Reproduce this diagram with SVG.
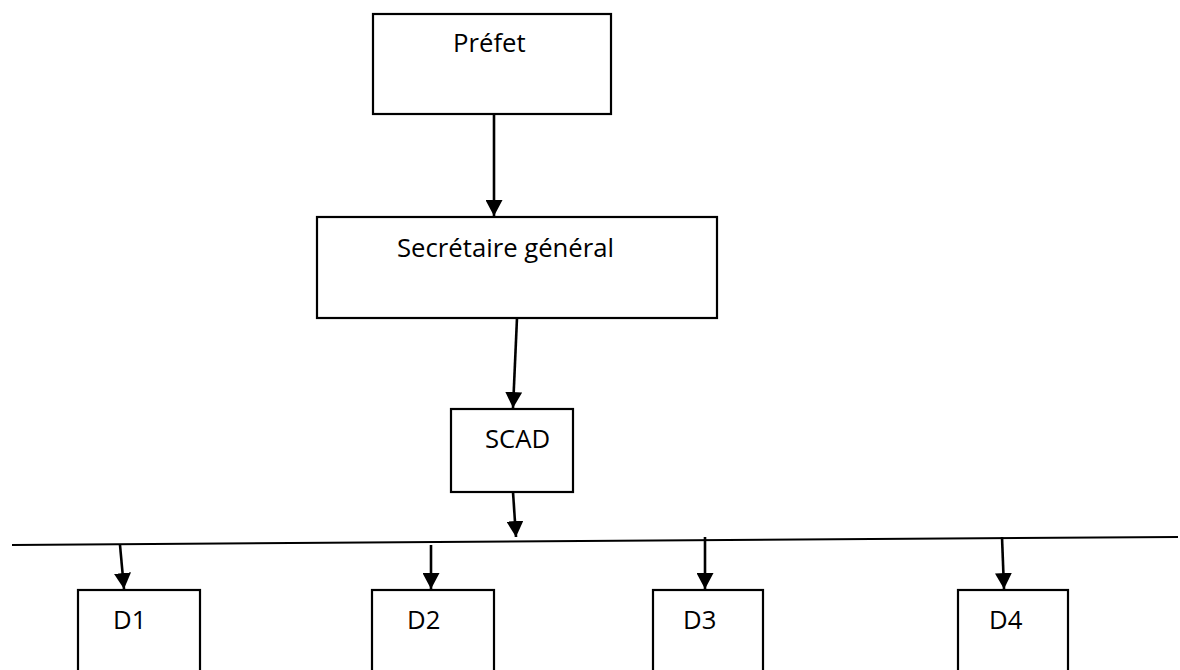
<svg xmlns="http://www.w3.org/2000/svg" width="1180" height="670" viewBox="0 0 1180 670">
  <style>
    .box { fill: #fff; stroke: #000; stroke-width: 2.2; }
    .lbl { font-family: "Open Sans", "Liberation Sans", Arial, sans-serif; font-size: 25.7px; fill: #000; }
    .conn { stroke: #000; stroke-width: 2.6; fill: none; }
    .bus { stroke: #000; stroke-width: 2; fill: none; }
  </style>
  <defs>
    <marker id="arr" markerUnits="userSpaceOnUse" markerWidth="17" markerHeight="17" viewBox="0 0 16 16" refX="15" refY="8" orient="auto">
      <path d="M0,0 L15,8 L0,16 Z" fill="#000"/>
    </marker>
  </defs>

  <g id="prefet">
    <rect class="box" x="373" y="14" width="238" height="100"/>
    <text class="lbl" x="453" y="52">Préfet</text>
  </g>
  <g id="secretaire">
    <rect class="box" x="317" y="217" width="400" height="101"/>
    <text class="lbl" x="397" y="257">Secrétaire général</text>
  </g>
  <g id="scad">
    <rect class="box" x="451" y="409" width="122" height="83"/>
    <text class="lbl" x="485" y="448">SCAD</text>
  </g>
  <g id="d1">
    <rect class="box" x="78" y="590" width="122" height="100"/>
    <text class="lbl" x="113" y="629">D1</text>
  </g>
  <g id="d2">
    <rect class="box" x="372" y="590" width="122" height="100"/>
    <text class="lbl" x="407" y="629">D2</text>
  </g>
  <g id="d3">
    <rect class="box" x="653" y="590" width="110" height="100"/>
    <text class="lbl" x="683" y="629">D3</text>
  </g>
  <g id="d4">
    <rect class="box" x="958" y="590" width="110" height="100"/>
    <text class="lbl" x="989" y="629">D4</text>
  </g>

  <g id="connectors">
    <line class="bus" x1="12" y1="545" x2="1178" y2="537"/>
    <line class="conn" x1="494" y1="114" x2="494" y2="216" marker-end="url(#arr)"/>
    <line class="conn" x1="517" y1="318" x2="513" y2="408" marker-end="url(#arr)"/>
    <line class="conn" x1="513" y1="492" x2="516" y2="537" marker-end="url(#arr)"/>
    <line class="conn" x1="120" y1="545" x2="124" y2="589" marker-end="url(#arr)"/>
    <line class="conn" x1="431" y1="545" x2="431" y2="589" marker-end="url(#arr)"/>
    <line class="conn" x1="705" y1="537" x2="705" y2="589" marker-end="url(#arr)"/>
    <line class="conn" x1="1002" y1="537" x2="1004" y2="589" marker-end="url(#arr)"/>
  </g>
</svg>
